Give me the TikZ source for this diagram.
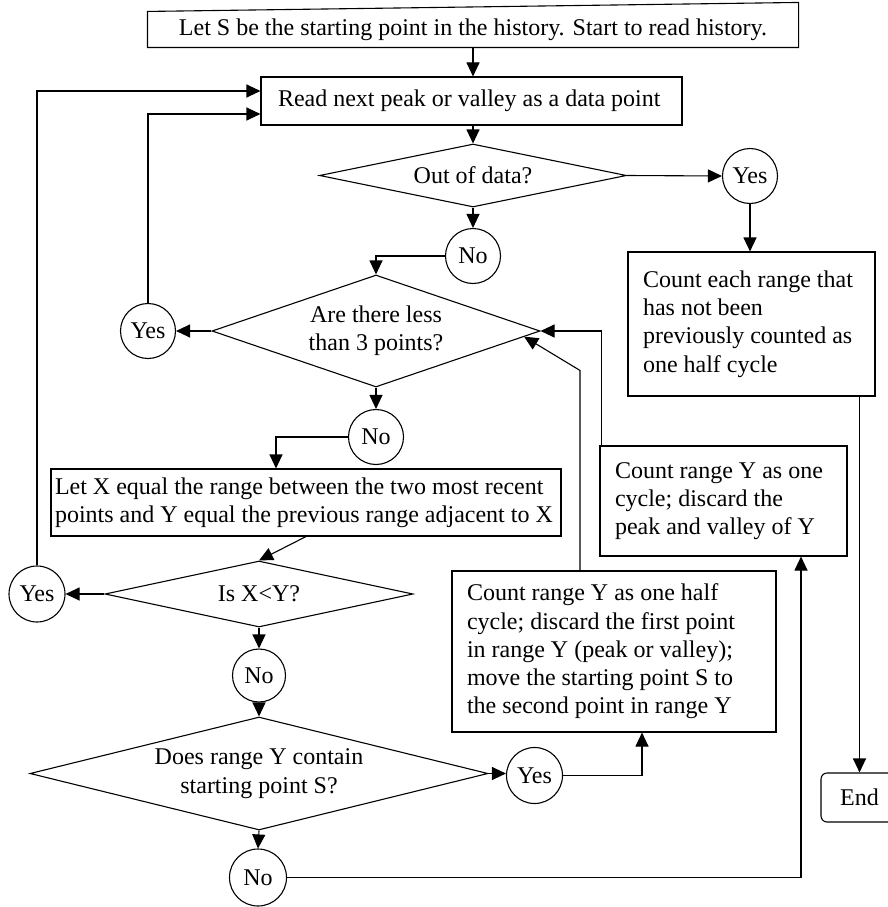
\documentclass[tikz,border=0pt]{standalone}
\usepackage{fontspec}
\setmainfont{Liberation Serif}
\usetikzlibrary{arrows.meta,shapes.geometric,calc}
\begin{document}
\begin{tikzpicture}[x=1pt,y=-1pt,
  line width=1.1pt,
  >={Triangle[length=14pt,width=13pt]},
  every node/.style={font=\fontsize{24}{28.3}\selectfont},
  box/.style={draw,rectangle,align=left,inner ysep=0pt,
    execute at begin node={\spaceskip=6pt plus 3pt minus 2pt\xspaceskip=6pt plus 3pt minus 2pt\relax}},
  dia/.style={draw,diamond,inner sep=0pt,align=center},
  circ/.style={draw,circle,inner sep=0pt},
  plain/.style={rectangle,inner sep=0pt,align=center}]
\useasboundingbox (0,0) rectangle (888,907);

% nodes
\node[plain,minimum width=650pt,minimum height=35pt] (top) at (473,29.5) {Let S be the starting point in the history. Start to read history.};
\draw (top.north west) -- ($(top.north east)+(0,-9)$) -- (top.south east) -- (top.south west) -- cycle;

\node[box,minimum height=48pt,inner xsep=17pt,text width=387pt] (read) at (471.5,101) {Read next peak or valley as a data point};

\node[dia,aspect=4.87,minimum width=307pt,minimum height=63pt] (d1) at (473,175.5) {Out of data?};
\node[circ,minimum size=55pt] (yes1) at (750,176) {Yes};
\node[box,minimum height=144pt,inner xsep=15pt,text width=217pt] (cnt) at (751.5,324) {Count each range that\\has not been\\previously counted as\\one half cycle};

\node[circ,minimum size=55pt] (no1) at (473,256) {No};
\node[dia,aspect=2.93,minimum width=328pt,minimum height=112pt] (d2) at (376,331) {Are there less\\than 3 points?};
\node[circ,minimum size=55pt] (yes2) at (148,331) {Yes};
\node[circ,minimum size=55pt] (no2) at (376,437) {No};

\node[box,minimum height=67pt,inner xsep=4pt,text width=502pt] (box3) at (306,502.5) {Let X equal the range between the two most recent\\points and Y equal the previous range adjacent to X};

\node[box,minimum height=110pt,inner xsep=15pt,text width=217pt] (box4) at (723.5,501) {Count range Y as one\\cycle; discard the\\peak and valley of Y};

\node[dia,aspect=4.67,minimum width=308pt,minimum height=66pt] (d3) at (259,594) {Is X<Y?};
\node[circ,minimum size=56pt] (yes3) at (37,594) {Yes};
\node[circ,minimum size=53pt] (no3) at (259,675.5) {No};

\node[box,minimum height=161pt,inner xsep=15pt,text width=294pt] (box5) at (614,651.5) {Count range Y as one half\\cycle; discard the first point\\in range Y (peak or valley);\\move the starting point S to\\the second point in range Y};

\node[dia,aspect=4.05,minimum width=458pt,minimum height=113pt] (d4) at (259,773.5) {Does range Y contain\\starting point S?};
\node[circ,minimum size=56pt] (yes4) at (534.5,775.5) {Yes};
\node[circ,minimum size=57pt] (no4) at (258,877.5) {No};

\node[draw,rectangle,rounded corners=6pt,minimum width=77pt,minimum height=49pt,inner sep=0pt] (end) at (859.5,797.5) {End};

% connectors
\draw[->] (top.south -| d1.north) -- (read.north -| d1.north);
\draw[->] (read.south -| d1.north) -- (d1.north);
\draw[->] (d1.east) -- (yes1.west);
\draw[->] (yes1.south) -- (yes1.south |- cnt.north);
\draw[->] (end.north |- cnt.south) -- (end.north);
\draw[->] (d1.south) -- (no1.north);
\draw[->] (no1.west) -| (d2.north);
\draw[->] (d2.west) -- (yes2.east);
\draw[->] (yes2.north) |- ($(read.west)+(0,13)$);
\draw[->] (d2.south) -- (no2.north);
\draw[->] (no2.west) -| ($(box3.north)+(-30,0)$);
\draw[->] (box3.south) -- (d3.north);
\draw[->] (d3.west) -- (yes3.east);
\draw[->] (yes3.north) |- ($(read.west)+(0,-10)$);
\draw[->] (d3.south) -- (no3.north);
\draw[->] (no3.south) -- (d4.north);
\draw[->] (d4.south) -- (no4.north);
\draw[->] (d4.east) -- (d4.east -| yes4.west);
\draw[->] (yes4.east) -| ($(box5.south)+(28,0)$);
\draw[->] (no4.east) -| ($(box4.south)+(77.5,0)$);
\draw[->] ($(box4.north west)+(2,0)$) |- (d2.east);
\draw[->] ($(box5.north)+(-34,0)$) -- ++(0,-200) -- ($(d2.east)!0.1!(d2.south)$);
\end{tikzpicture}
\end{document}
